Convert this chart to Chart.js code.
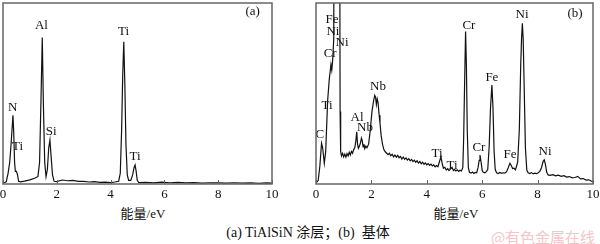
<!DOCTYPE html>
<html>
<head>
<meta charset="utf-8">
<script src="https://cdn.jsdelivr.net/npm/chart.js@4.4.0/dist/chart.umd.min.js"></script>
<style>
  html, body { margin: 0; padding: 0; background: #fff; width: 600px; height: 244px; overflow: hidden; }
  canvas { position: absolute; top: 0; }
  .t { position: absolute; transform: translate(-50%, -50%); white-space: nowrap;
       font-family: "Liberation Serif", "Noto Sans CJK SC", serif; font-size: 13px; color: #111; }
  .wm { position: absolute; transform: translate(-50%, -50%); white-space: nowrap;
        font-family: "Noto Sans CJK SC", sans-serif; font-size: 15px; color: #f2c6c6; }
</style>
</head>
<body>
<canvas id="chartA" width="310" height="202" style="left:-10px"></canvas>
<canvas id="chartB" width="310" height="202" style="left:300px"></canvas>
<div class="t" style="left:143px;top:212px">能量/eV</div>
<div class="t" style="left:456px;top:212px">能量/eV</div>
<div class="t" style="left:308px;top:231px;font-size:14px">(a) TiAlSiN 涂层；(b)&nbsp; 基体</div>
<div class="wm" style="left:543px;top:236px">@有色金属在线</div>
<script>
// (a) TiAlSiN coating spectrum, energy in keV, counts in % of frame height
const energyA = [0, 0.06, 0.12, 0.19, 0.25, 0.30, 0.37, 0.40, 0.43, 0.46, 0.50, 0.54, 0.58, 0.65, 0.8, 1.0, 1.2, 1.3,
  1.36, 1.41, 1.46, 1.50, 1.55, 1.60, 1.65, 1.70, 1.745, 1.79, 1.84, 1.90, 2.0, 2.2, 2.4, 2.6, 2.8, 3.0, 3.2, 3.4, 3.6,
  3.8, 4.0, 4.15, 4.30, 4.36, 4.41, 4.45, 4.49, 4.53, 4.57, 4.62, 4.67, 4.75, 4.82, 4.87, 4.91, 4.95, 4.99, 5.05,
  5.3, 5.6, 5.9, 6.2, 6.5, 6.8, 7.1, 7.4, 7.7, 8.0, 8.3, 8.6, 8.9, 9.2, 9.5, 9.8, 10];
const countsA = [0.5, 0.8, 1.2, 6, 12, 22, 38, 28, 12, 7, 7, 5, 1.5, 1.2, 1.6, 2.3, 3.3, 4.2,
  12, 45, 81, 45, 12, 4, 8, 20, 24.3, 15, 5, 1.5, 1.3, 2.2, 1.8, 2.0, 1.5, 1.4, 1.1, 1.3, 0.9,
  1.0, 0.8, 1.1, 1.5, 6, 30, 60, 78.6, 55, 22, 5, 2, 2, 5, 9, 10.5, 7, 2, 0.8,
  0.9, 0.6, 1.0, 0.7, 0.9, 0.6, 0.8, 0.5, 0.7, 0.6, 0.5, 0.7, 0.5, 0.6, 0.4, 0.6, 0.5];
const peakTextA = ['N', 'Ti', 'Al', 'Si', 'Ti', 'Ti', '(a)'];
const peakEA = [0.36, 0.54, 1.43, 1.79, 4.48, 4.91, 9.28];
const peakVA = [42, 20.4, 87.3, 28.7, 84, 14.9, 95];

// (b) substrate spectrum
const energyB = [0, 0.08, 0.14, 0.20, 0.24, 0.30, 0.35, 0.42, 0.48, 0.54, 0.57, 0.60, 0.64, 0.66, 0.85, 0.87, 0.89,
  0.92, 0.96, 1.00, 1.04, 1.08, 1.12, 1.16, 1.20, 1.24, 1.28, 1.32, 1.36, 1.40,
  1.44, 1.47, 1.50, 1.53, 1.57, 1.61, 1.64, 1.67, 1.70, 1.73, 1.76, 1.80, 1.84,
  1.90, 1.96, 2.02, 2.08, 2.12, 2.15, 2.18, 2.21, 2.24, 2.28, 2.31, 2.35, 2.40, 2.45, 2.50, 2.55,
  2.60, 2.65, 2.70, 2.75, 2.80, 2.85, 2.90, 2.95, 3.00, 3.05, 3.10, 3.15, 3.20, 3.25, 3.30, 3.35, 3.40, 3.45,
  3.50, 3.55, 3.60, 3.65, 3.70, 3.75, 3.80, 3.85, 3.90, 3.95, 4.00, 4.05, 4.10, 4.15, 4.20, 4.25, 4.30, 4.35, 4.40,
  4.45, 4.51, 4.56, 4.60, 4.65, 4.70, 4.75, 4.80, 4.85, 4.91, 4.96, 5.00, 5.05, 5.10, 5.15, 5.20, 5.25, 5.30,
  5.33, 5.37, 5.40, 5.43, 5.46, 5.50, 5.54, 5.60, 5.65, 5.70, 5.75, 5.80, 5.85, 5.89, 5.92, 5.96, 6.00, 6.04, 6.10, 6.15, 6.20,
  6.25, 6.30, 6.35, 6.39, 6.43, 6.47, 6.52, 6.58, 6.64, 6.70, 6.76, 6.82, 6.88, 6.94, 7.00, 7.04, 7.10, 7.15, 7.20,
  7.28, 7.34, 7.39, 7.42, 7.45, 7.48, 7.52, 7.56, 7.61, 7.66, 7.72, 7.78, 7.84, 7.90, 7.96, 8.02, 8.08, 8.14, 8.20, 8.24,
  8.28, 8.33, 8.38, 8.45, 8.55, 8.65, 8.75, 8.85, 8.95, 9.05, 9.15, 9.25, 9.35, 9.45, 9.55, 9.65, 9.75, 9.85, 9.95, 10];
const countsB = [0.5, 2, 10, 22.5, 20, 11.4, 18, 46, 58, 66, 63, 68, 80, 200, 200, 40, 17.8,
  15.5, 17, 15, 16.5, 14.8, 16.8, 15.5, 17.5, 16, 18, 17, 19, 20,
  24, 28.9, 22, 19.7, 21, 23, 25.4, 24, 20.5, 22, 19.5, 21, 20,
  22, 30, 40, 46, 49, 48, 44, 47, 45, 38, 33.7, 27, 22, 19, 17.8, 17,
  16.2, 17, 15.6, 16.4, 15, 16, 14.8, 15.8, 14.5, 15.2, 13.8, 14.9, 13.6, 14.4, 13.2, 14, 12.8, 13.6,
  12.4, 13.2, 12, 12.8, 11.6, 12.4, 11.2, 12, 10.9, 11.7, 10.6, 11.3, 10.3, 11, 10, 10.6, 9.5, 10.2, 9.6,
  12, 15, 11, 8.7, 9.2, 7.7, 8.5, 7.4, 8.2, 9.2, 7.5, 8, 7.2, 7.8, 7, 7.6, 7.2, 9,
  25, 60, 84.2, 65, 30, 9, 6.5, 6, 6.6, 5.8, 6.4, 6.2, 9, 13, 16, 12, 7.5, 6.5, 6.2, 6.8, 8,
  20, 42, 54.7, 42, 18, 8, 6.2, 5.8, 6.4, 5.9, 6.2, 6, 6.8, 9, 11.4, 10.5, 8.5, 8.7, 7.8,
  12, 30, 65, 80, 88.8, 80, 50, 20, 7.7, 6.2, 5.8, 6.3, 5.6, 6, 5.7, 6.2, 7, 9, 12.5, 13.3,
  11, 6.5, 5, 4.8, 5.2, 4.5, 4.9, 4.2, 4.6, 3.8, 4.1, 3.4, 3.6, 4.2, 2.8, 3, 2.2, 2.3, 1.5, 1.3];
const peakTextB = ['Fe', 'Ni', 'Ni', 'Cr', 'Ti', 'C', 'Al', 'Nb', 'Nb', 'Ti', 'Ti', 'Cr', 'Cr', 'Fe', 'Fe', 'Ni', 'Ni', '(b)'];
const peakEB = [0.58, 0.61, 0.94, 0.51, 0.40, 0.14, 1.48, 1.77, 2.24, 4.37, 4.91, 5.52, 5.88, 6.35, 7.0, 7.44, 8.27, 9.35];
const peakVB = [90.6, 84, 77.9, 71.8, 43.1, 27.1, 36.5, 30.9, 54.1, 16.6, 10, 87.8, 19.9, 58.6, 16, 93.4, 17.7, 93.9];

const SERIF = '"Liberation Serif", "Times New Roman", serif';

// frame, inward ticks and peak labels
const panelPlugin = {
  id: 'panel',
  afterDatasetsDraw(chart, args, opts) {
    const { ctx, chartArea: a } = chart;
    const x = chart.scales.x, y = chart.scales.y;
    ctx.save();
    ctx.font = '13px ' + SERIF;
    ctx.fillStyle = '#111';
    ctx.textAlign = 'center';
    ctx.textBaseline = 'middle';
    opts.text.forEach((t, i) => {
      ctx.fillText(t, x.getPixelForValue(opts.energy[i]), y.getPixelForValue(opts.value[i]));
    });
    ctx.strokeStyle = '#666';
    ctx.lineWidth = 1.5;
    ctx.strokeRect(a.left, a.top, a.right - a.left, a.bottom - a.top);
    ctx.lineWidth = 1;
    x.ticks.forEach(t => {
      const px = Math.round(x.getPixelForValue(t.value)) + 0.5;
      ctx.beginPath();
      ctx.moveTo(px, a.bottom);
      ctx.lineTo(px, a.bottom - 4);
      ctx.stroke();
    });
    ctx.restore();
  }
};

function makePanel(id, energy, counts, text, tE, tV, pad) {
  new Chart(document.getElementById(id), {
    type: 'line',
    data: {
      datasets: [{
        data: energy.map((e, i) => ({ x: e, y: counts[i] })),
        borderColor: '#111',
        borderWidth: 1.2,
        pointRadius: 0,
        tension: 0,
        fill: false
      }]
    },
    options: {
      responsive: false,
      animation: false,
      layout: { padding: pad },
      plugins: {
        legend: { display: false },
        tooltip: { enabled: false },
        panel: { text: text, energy: tE, value: tV }
      },
      scales: {
        x: {
          type: 'linear',
          min: 0,
          max: 10,
          grid: { display: false, drawTicks: false },
          border: { display: false },
          ticks: { stepSize: 2, padding: 3, maxRotation: 0, autoSkip: false, color: '#111',
                   font: { family: SERIF, size: 13 } },
          afterFit: s => { s.height = 17; }
        },
        y: { display: false, min: 0, max: 100 }
      }
    },
    plugins: [panelPlugin]
  });
}

makePanel('chartA', energyA, countsA, peakTextA, peakEA, peakVA, { top: 3, left: 13, right: 28, bottom: 1 });
makePanel('chartB', energyB, countsB, peakTextB, peakEB, peakVB, { top: 3, left: 16, right: 17, bottom: 1 });
</script>
</body>
</html>
